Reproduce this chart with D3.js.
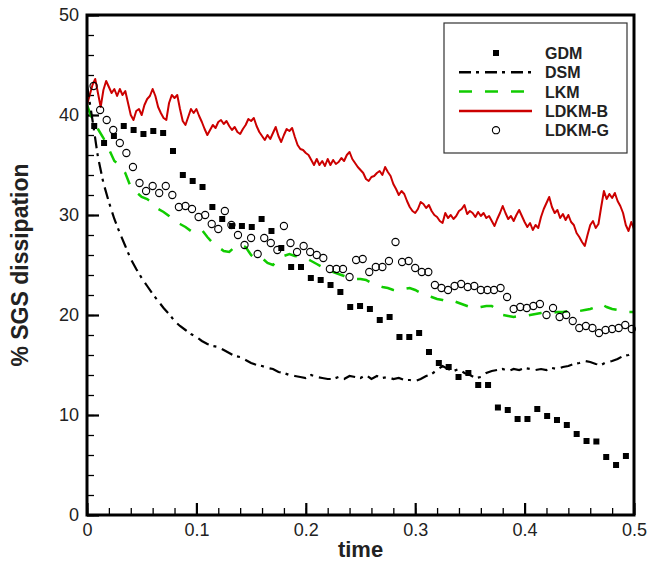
<!DOCTYPE html>
<html>
<head>
<meta charset="utf-8">
<script src="https://cdn.jsdelivr.net/npm/d3@7"></script>
<style>
  body { margin: 0; background: #fff; }
  svg text { font-family: "Liberation Sans", Arial, Helvetica, sans-serif; }
</style>
</head>
<body>
<div class="chart"></div>
<script>
var dtLine = 0.005;   // DSM and LKM sampling
var dtRed = 0.0025;   // LDKM-B sampling
var gdmStart = 0.0066, gdmStep = 0.009;
var ldkmgStart = 0.006, ldkmgStep = 0.006;

var gdm = [38.9, 37.2, 37.9, 38.9, 38.5, 38.1, 38.4, 38.2, 36.4, 34.0,
  33.4, 32.8, 30.8, 29.6, 28.9, 28.9, 28.8, 29.6, 28.4, 26.7,
  24.8, 24.8, 23.7, 23.5, 23.0, 22.3, 20.8, 20.9, 20.6, 19.5,
  19.8, 17.8, 17.8, 18.2, 16.3, 15.2, 14.8, 13.8, 14.2, 13.0,
  13.0, 10.75, 10.5, 9.6, 9.6, 10.6, 9.9, 9.5, 9.0, 8.1,
  7.4, 7.35, 5.8, 5.0, 5.9];

var dsm = [43.0, 39.5, 35.8, 33.2, 31.3, 29.6, 28.2, 26.9, 25.6, 24.6,
  23.7, 22.9, 22.1, 21.4, 20.7, 20.1, 19.4, 18.9, 18.5, 18.1,
  17.8, 17.4, 17.1, 16.9, 16.8, 16.5, 16.2, 15.9, 15.8, 15.5,
  15.2, 15.0, 14.9, 14.7, 14.6, 14.3, 14.2, 14.0, 13.9, 13.8,
  13.7, 14.0, 13.8, 13.7, 13.6, 13.6, 13.8, 13.6, 13.9, 13.8,
  13.7, 14.0, 13.6, 13.9, 13.7, 13.8, 13.6, 13.7, 13.5, 13.5,
  13.4, 13.6, 13.9, 14.1, 14.5, 14.9, 14.6, 14.4, 14.6, 14.2,
  14.0, 13.7, 13.8, 14.2, 14.4, 14.5, 14.6, 14.4, 14.6, 14.5,
  14.7, 14.6, 14.5, 14.6, 14.5, 14.7, 14.6, 14.8, 14.9, 15.1,
  15.2, 15.4, 15.3, 15.1, 15.0, 15.3, 15.4, 15.6, 15.9, 16.0,
  16.3];

var lkm = [41.0, 39.5, 38.6, 37.7, 36.6, 35.4, 35.0, 34.2, 32.8, 32.3,
  31.8, 31.6, 31.2, 30.6, 30.3, 29.9, 29.4, 29.1, 28.8, 28.4,
  28.6, 28.5, 27.8, 27.2, 26.8, 26.4, 26.3, 26.8, 27.0, 26.8,
  26.0, 25.6, 25.7, 25.2, 25.0, 25.6, 25.9, 26.1, 25.9, 25.8,
  25.7, 25.4, 25.1, 24.8, 24.5, 24.3, 24.1, 23.9, 23.7, 23.6,
  23.6, 23.5, 23.2, 23.0, 22.8, 22.7, 22.5, 22.4, 22.6, 22.7,
  22.5, 22.2, 22.0, 21.8, 21.6, 21.5, 21.3, 21.4, 21.2, 21.0,
  20.8, 20.7, 20.8, 20.9, 20.9, 20.5, 20.0, 19.9, 19.8, 19.9,
  19.9, 20.0, 20.1, 20.2, 20.3, 20.2, 20.3, 20.3, 20.4, 20.3,
  20.4, 20.5, 20.6, 20.8, 21.1, 20.8, 20.6, 20.5, 20.4, 20.3,
  20.3];

var ldkmB = [41.0, 42.0, 43.0, 43.6, 42.2, 40.8, 42.5, 43.4, 42.8, 42.2,
  42.6, 41.9, 42.6, 42.0, 42.4, 41.2, 40.0, 39.5, 40.4, 40.6,
  40.0, 41.0, 41.6, 41.9, 42.6, 41.9, 40.8, 40.2, 39.7, 39.5,
  41.2, 42.0, 41.7, 42.0, 40.6, 39.4, 39.0, 39.8, 40.6, 40.2,
  40.6, 39.9, 39.3, 38.6, 38.0, 38.5, 39.0, 38.7, 39.3, 39.5,
  39.1, 39.4, 38.9, 38.5, 38.8, 38.3, 38.1, 38.6, 39.0, 39.6,
  39.4, 39.7, 38.9, 38.3, 37.9, 37.5, 38.0, 37.6, 38.2, 38.8,
  37.9, 37.3, 38.0, 38.6, 38.4, 38.7, 37.8, 37.0, 36.6, 36.5,
  36.2, 36.0, 35.5, 35.0, 35.6, 35.0, 35.4, 34.9, 35.6, 35.0,
  35.5, 35.1,
  35.3, 35.7, 35.4, 36.0, 36.3, 35.6, 35.2, 34.8, 34.5, 34.2,
  33.6, 33.4, 33.8, 33.9, 34.2, 34.4, 34.0, 34.8, 34.3, 33.9,
  33.1, 32.6, 32.0, 32.4, 32.1, 31.4, 30.8, 30.4, 30.2, 30.6,
  31.3, 31.1, 30.7, 31.0, 30.4, 30.0, 29.8, 29.4, 29.2, 30.2,
  29.7, 30.0, 29.6, 29.9, 30.4, 30.6, 31.0, 30.1, 30.4,
  30.2, 29.8, 30.3, 29.9, 30.2, 29.7, 29.9, 29.4, 28.9, 29.6,
  30.2, 30.9, 30.2, 29.6, 29.9, 29.4, 30.0, 30.5, 29.9, 29.3,
  28.8, 29.2, 28.5, 29.0, 28.7, 29.8, 30.6, 31.2, 31.8, 30.8,
  30.2, 30.5, 29.7, 30.1, 29.5, 30.0, 29.3, 29.0, 28.2, 27.8,
  27.3, 26.9, 28.0, 29.0, 29.4, 28.7, 29.1, 30.8, 32.4, 31.6,
  32.1, 31.7, 32.2, 31.4, 30.9, 30.2, 29.0, 28.4, 29.3, 28.6];

var ldkmG = [42.9, 40.5, 39.5, 38.5, 37.2, 36.2, 34.8, 33.2, 32.4, 32.9,
  32.2, 32.9, 32.0, 30.8, 30.9, 30.6, 29.8, 30.0, 29.1, 28.6,
  30.4, 29.0, 28.0, 27.0, 27.7, 26.1, 27.7, 27.2, 26.5, 28.9,
  27.2, 26.3, 26.9, 26.3, 26.0, 25.7, 24.6, 24.6, 24.6, 23.8,
  25.5, 25.6, 24.3, 24.8, 24.8, 25.4, 27.3, 25.3, 25.4, 24.7,
  24.3, 24.3, 23.0, 22.7, 22.5, 22.9, 23.1, 22.8, 22.9, 22.5,
  22.5, 22.5, 22.7, 21.8, 20.6, 20.8, 20.7, 20.9, 21.1, 20.0,
  20.7, 19.8, 20.0, 19.4, 18.7, 18.9, 18.7, 18.2, 18.5, 18.6,
  18.7, 19.0, 18.6];

var xTicks = [0, 0.1, 0.2, 0.3, 0.4, 0.5];
var xTickLabels = ["0", "0.1", "0.2", "0.3", "0.4", "0.5"];
var yTicks = [0, 10, 20, 30, 40, 50];
var legendNames = ["GDM", "DSM", "LKM", "LDKM-B", "LDKM-G"];

var W = 648, H = 563;
var margin = { top: 15, right: 14, bottom: 48, left: 87 };

var svg = d3.select(".chart").append("svg")
  .attr("width", W)
  .attr("height", H);

var x = d3.scaleLinear().domain([0, 0.5]).range([margin.left, W - margin.right]);
var y = d3.scaleLinear().domain([0, 50]).range([H - margin.bottom, margin.top]);

function series(vals, t0, dt) {
  return vals.map(function (v, i) { return { t: t0 + i * dt, v: v }; });
}

var line = d3.line()
  .x(function (d) { return x(d.t); })
  .y(function (d) { return y(d.v); });

// minor ticks
var xMinor = d3.range(0, 26).map(function (i) { return i * 0.02; });
var yMinor = d3.range(0, 26).map(function (i) { return i * 2; });

svg.append("g")
  .attr("transform", "translate(0," + y(0) + ")")
  .call(d3.axisBottom(x).tickValues(xMinor).tickSize(-7).tickFormat(""))
  .call(function (g) { g.select(".domain").remove(); g.selectAll("line").attr("stroke-width", 1.3); });

svg.append("g")
  .attr("transform", "translate(" + x(0) + ",0)")
  .call(d3.axisLeft(y).tickValues(yMinor).tickSize(-7).tickFormat(""))
  .call(function (g) { g.select(".domain").remove(); g.selectAll("line").attr("stroke-width", 1.3); });

// major ticks + labels
svg.append("g")
  .attr("transform", "translate(0," + y(0) + ")")
  .call(d3.axisBottom(x).tickValues(xTicks).tickSize(-12).tickPadding(8)
    .tickFormat(function (d, i) { return xTickLabels[i]; }))
  .call(function (g) {
    g.select(".domain").remove();
    g.selectAll("line").attr("stroke-width", 2.2);
    g.selectAll("text").attr("font-size", 18).attr("fill", "#222")
      .attr("font-family", "'Liberation Sans', Arial, sans-serif");
  });

svg.append("g")
  .attr("transform", "translate(" + x(0) + ",0)")
  .call(d3.axisLeft(y).tickValues(yTicks).tickSize(-12).tickPadding(8))
  .call(function (g) {
    g.select(".domain").remove();
    g.selectAll("line").attr("stroke-width", 2.2);
    g.selectAll("text").attr("font-size", 18).attr("fill", "#222")
      .attr("font-family", "'Liberation Sans', Arial, sans-serif");
  });

// axis titles
svg.append("text")
  .attr("x", (x(0) + x(0.5)) / 2)
  .attr("y", 557)
  .attr("text-anchor", "middle")
  .attr("font-size", 22)
  .attr("font-weight", "bold")
  .attr("fill", "#222")
  .text("time");

svg.append("text")
  .attr("transform", "translate(28," + (y(0) + y(50)) / 2 + ") rotate(-90)")
  .attr("text-anchor", "middle")
  .attr("font-size", 23)
  .attr("font-weight", "bold")
  .attr("fill", "#222")
  .text("% SGS dissipation");

// data
var plot = svg.append("g");

plot.append("path")
  .datum(series(ldkmB, 0, dtRed))
  .attr("fill", "none")
  .attr("stroke", "#cc0000")
  .attr("stroke-width", 2)
  .attr("stroke-linejoin", "round")
  .attr("d", line);

plot.append("path")
  .datum(series(lkm, 0, dtLine))
  .attr("fill", "none")
  .attr("stroke", "#11cc00")
  .attr("stroke-width", 2.5)
  .attr("stroke-dasharray", "13,13")
  .attr("d", line);

plot.append("path")
  .datum(series(dsm, 0, dtLine))
  .attr("fill", "none")
  .attr("stroke", "#000")
  .attr("stroke-width", 2.2)
  .attr("stroke-dasharray", "12,5,3,6")
  .attr("d", line);

plot.selectAll(".gdm")
  .data(series(gdm, gdmStart, gdmStep))
  .enter().append("rect")
  .attr("class", "gdm")
  .attr("x", function (d) { return x(d.t) - 3; })
  .attr("y", function (d) { return y(d.v) - 3; })
  .attr("width", 6)
  .attr("height", 6)
  .attr("fill", "#000");

plot.selectAll(".ldkmg")
  .data(series(ldkmG, ldkmgStart, ldkmgStep))
  .enter().append("circle")
  .attr("class", "ldkmg")
  .attr("cx", function (d) { return x(d.t); })
  .attr("cy", function (d) { return y(d.v); })
  .attr("r", 3.6)
  .attr("fill", "none")
  .attr("stroke", "#000")
  .attr("stroke-width", 1.1);

// frame
svg.append("rect")
  .attr("x", x(0))
  .attr("y", y(50))
  .attr("width", x(0.5) - x(0))
  .attr("height", y(0) - y(50))
  .attr("fill", "none")
  .attr("stroke", "#000")
  .attr("stroke-width", 3);

// legend
var lg = svg.append("g").attr("transform", "translate(444,23)");
lg.append("rect")
  .attr("width", 183)
  .attr("height", 130)
  .attr("fill", "#fff")
  .attr("stroke", "#333")
  .attr("stroke-width", 1.2);

var rowY = function (i) { return 30 + i * 19.3; };
var styles = [
  { type: "square" },
  { type: "line", color: "#000", dash: "12,5,3,6" },
  { type: "line", color: "#11cc00", dash: "13,13" },
  { type: "line", color: "#cc0000", dash: null },
  { type: "circle" }
];

legendNames.forEach(function (name, i) {
  var s = styles[i], cy = rowY(i);
  if (s.type === "line") {
    lg.append("line")
      .attr("x1", 15).attr("x2", 88)
      .attr("y1", cy).attr("y2", cy)
      .attr("stroke", s.color)
      .attr("stroke-width", 2.5)
      .attr("stroke-dasharray", s.dash);
  } else if (s.type === "square") {
    lg.append("rect")
      .attr("x", 49).attr("y", cy - 3)
      .attr("width", 6).attr("height", 6)
      .attr("fill", "#000");
  } else {
    lg.append("circle")
      .attr("cx", 52).attr("cy", cy)
      .attr("r", 3.6)
      .attr("fill", "none")
      .attr("stroke", "#000")
      .attr("stroke-width", 1.1);
  }
  lg.append("text")
    .attr("x", 101)
    .attr("y", cy + 6)
    .attr("font-size", 16)
    .attr("font-weight", "bold")
    .attr("fill", "#222")
    .text(name);
});
</script>
</body>
</html>
